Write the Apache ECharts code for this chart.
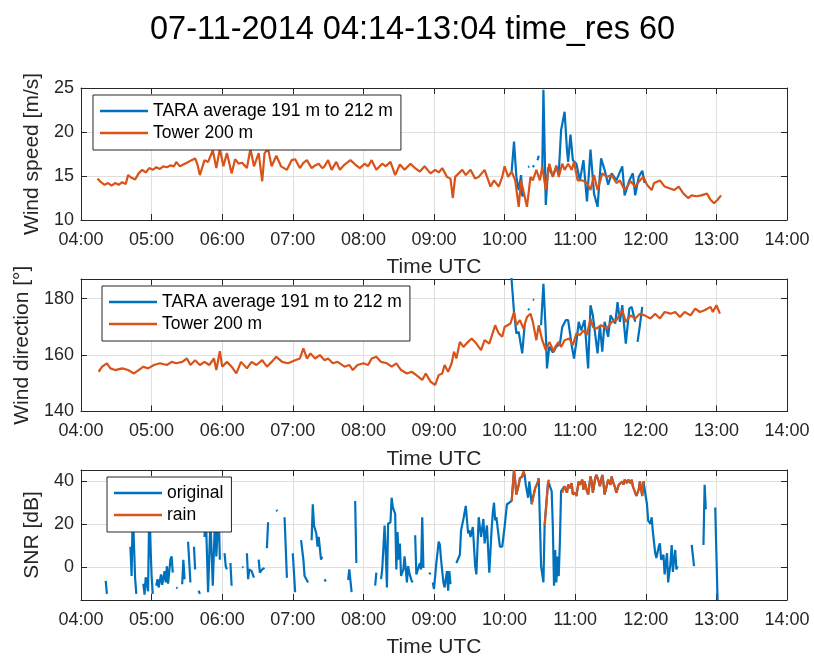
<!DOCTYPE html>
<html>
<head>
<meta charset="utf-8">
<script src="https://cdn.jsdelivr.net/npm/echarts@6/dist/echarts.min.js"></script>
<style>
  html, body { margin: 0; padding: 0; background: #ffffff; }
  #chart { width: 814px; height: 659px; }
</style>
</head>
<body>
<div id="chart"></div>
<script>
// ---- data: [time UTC, value]; null marks a gap in the record ----
const speedTara = [
  ['10:06',15.5],['10:08',18.9],['10:10',14.9],['10:12',13.4],['10:14',15.1],['10:15',12.7],['10:17',13.0],['10:18',null],
  ['10:20',16.0],['10:21',16.1],['10:22',null],['10:24',16.0],['10:25',16.2],['10:26',null],['10:28',16.8],['10:29',17.3],['10:30',null],
  ['10:32',15.5],['10:33',24.8],['10:35',11.7],['10:37',16.0],['10:39',15.5],['10:41',15.0],['10:44',16.0],['10:46',15.2],
  ['10:48',20.2],['10:51',22.3],['10:53',18.0],['10:54',16.6],['10:56',19.7],['10:58',16.8],['11:01',16.4],['11:04',14.5],
  ['11:07',16.8],['11:10',12.1],['11:13',18.0],['11:16',13.0],['11:19',11.5],['11:22',17.0],['11:25',15.7],['11:28',14.0],
  ['11:31',15.3],['11:35',14.5],['11:40',16.1],['11:42',12.8],['11:46',14.5],['11:49',15.3],['11:51',12.8],['11:54',14.9],
  ['11:57',15.6],['11:59',14.2]
];
const speedTower = [
  ['04:14',14.7],['04:17',14.3],['04:20',14.0],['04:23',14.2],['04:26',13.9],['04:29',14.2],['04:32',14.0],['04:35',14.3],
  ['04:38',14.1],['04:40',15.1],['04:43',14.8],['04:46',14.6],['04:49',15.3],['04:52',15.7],['04:55',15.4],['04:58',15.9],
  ['05:01',15.7],['05:04',16.0],['05:07',15.8],['05:10',16.1],['05:13',16.0],['05:16',16.2],['05:19',16.1],['05:21',16.6],
  ['05:24',16.1],['05:27',16.3],['05:30',16.5],['05:34',16.8],['05:37',17.0],['05:39',16.3],['05:41',15.1],['05:45',16.8],
  ['05:48',16.6],['05:52',17.9],['05:55',15.9],['05:58',18.1],['06:01',16.1],['06:04',17.6],['06:08',15.3],['06:11',16.9],
  ['06:14',16.4],['06:17',16.5],['06:21',15.9],['06:24',18.1],['06:27',16.1],['06:31',17.6],['06:34',14.4],['06:36',17.6],
  ['06:39',18.1],['06:42',16.1],['06:46',17.3],['06:50',16.1],['06:55',15.7],['06:59',16.8],['07:02',16.9],['07:06',15.9],
  ['07:09',16.5],['07:12',16.8],['07:16',15.9],['07:19',16.2],['07:22',16.4],['07:25',15.9],['07:27',16.1],['07:30',16.8],
  ['07:33',15.7],['07:37',16.6],['07:40',15.7],['07:44',16.3],['07:49',16.8],['07:53',16.3],['07:57',15.9],['08:01',16.4],
  ['08:04',16.1],['08:07',16.8],['08:11',15.7],['08:16',16.4],['08:19',16.1],['08:23',16.6],['08:27',15.1],['08:31',16.3],
  ['08:35',15.7],['08:40',16.4],['08:44',15.9],['08:48',15.5],['08:52',16.1],['08:57',15.3],['09:01',15.7],['09:04',15.4],
  ['09:07',15.9],['09:11',14.9],['09:14',14.7],['09:16',12.5],['09:18',14.9],['09:21',15.3],['09:24',15.7],['09:27',15.1],
  ['09:31',15.7],['09:35',14.7],['09:38',14.9],['09:43',15.7],['09:48',13.8],['09:51',14.5],['09:55',13.8],['09:58',14.9],
  ['10:00',16.1],['10:03',14.9],['10:06',15.5],['10:09',14.5],['10:12',11.5],['10:14',14.5],['10:17',12.7],['10:19',11.5],
  ['10:22',14.9],['10:24',14.5],['10:27',15.7],['10:30',14.5],['10:32',16.1],['10:35',13.4],['10:38',16.4],['10:41',14.9],
  ['10:44',16.2],['10:46',14.9],['10:49',16.4],['10:51',15.7],['10:54',16.4],['10:57',15.7],['10:59',16.6],['11:02',14.5],
  ['11:06',14.5],['11:10',14.2],['11:13',13.4],['11:16',15.1],['11:19',13.4],['11:23',15.3],['11:27',14.9],['11:31',15.1],
  ['11:35',14.2],['11:38',14.5],['11:42',13.4],['11:47',14.4],['11:51',13.8],['11:55',14.5],['11:58',14.9],['12:01',14.0],
  ['12:05',13.4],['12:07',14.2],['12:12',14.5],['12:16',13.8],['12:20',13.6],['12:24',13.4],['12:28',13.8],['12:32',13.0],
  ['12:36',12.5],['12:39',12.8],['12:43',12.7],['12:47',12.8],['12:52',13.0],['12:55',12.3],['12:58',11.9],['13:01',12.3],
  ['13:04',12.8]
];
const dirTara = [
  ['10:05',192],['10:08',175.3],['10:10',167.7],['10:12',168.2],['10:15',160.6],['10:17',170.6],['10:18',null],
  ['10:20',176.5],['10:21',176.0],['10:22',null],['10:24',179.8],['10:25',179.5],['10:26',null],
  ['10:31',170.6],['10:33',185.3],['10:35',168.0],['10:36',155.3],['10:38',163.0],['10:41',161.0],['10:44',163.0],
  ['10:47',164.0],['10:49',170.0],['10:52',172.4],['10:54',172.4],['10:57',163.5],['10:59',158.8],['11:01',164.7],
  ['11:03',171.8],['11:05',168.8],['11:08',172.4],['11:10',160.6],['11:11',155.3],['11:13',177.7],['11:15',174.1],
  ['11:19',160.6],['11:21',170.6],['11:23',161.2],['11:25',171.8],['11:28',166.5],['11:30',174.1],['11:34',171.2],
  ['11:36',178.8],['11:38',171.8],['11:40',177.7],['11:43',164.1],['11:46',176.5],['11:48',177.1],['11:51',171.8],
  ['11:52',null],['11:53',164.7],['11:55',170.6],['11:57',177.1]
];
const dirTower = [
  ['04:15',154.1],['04:18',155.9],['04:22',157.1],['04:25',155.3],['04:29',154.7],['04:35',155.3],['04:40',154.7],['04:45',153.5],
  ['04:49',154.7],['04:53',155.9],['04:57',155.3],['05:02',156.5],['05:07',157.1],['05:13',156.5],['05:17',157.6],['05:21',157.1],
  ['05:26',157.6],['05:30',158.8],['05:33',156.5],['05:37',158.2],['05:41',156.5],['05:45',157.6],['05:49',156.5],['05:53',158.8],
  ['05:55',154.7],['05:58',161.4],['06:00',155.9],['06:04',157.6],['06:08',155.9],['06:12',153.5],['06:16',157.6],['06:21',155.3],
  ['06:25',157.6],['06:29',156.5],['06:34',158.2],['06:38',155.9],['06:42',157.6],['06:46',159.4],['06:51',157.6],['06:56',157.1],
  ['07:02',158.2],['07:06',158.8],['07:09',162.4],['07:12',158.8],['07:15',160.6],['07:19',158.8],['07:23',160.0],['07:27',158.2],
  ['07:30',158.8],['07:34',157.1],['07:38',157.6],['07:44',155.9],['07:48',156.5],['07:51',154.7],['07:55',156.5],['08:00',157.1],
  ['08:04',156.5],['08:07',158.8],['08:11',159.4],['08:15',157.6],['08:20',157.1],['08:24',155.9],['08:28',157.1],['08:32',154.7],
  ['08:37',153.5],['08:41',154.1],['08:45',152.9],['08:50',151.2],['08:53',153.5],['08:57',150.6],['09:01',149.4],['09:04',152.9],
  ['09:07',153.5],['09:09',156.5],['09:12',154.1],['09:15',157.1],['09:17',161.2],['09:19',158.8],['09:22',164.7],['09:25',162.9],
  ['09:29',164.7],['09:32',165.9],['09:36',164.1],['09:40',161.8],['09:43',165.3],['09:47',164.1],['09:52',170.6],['09:55',167.7],
  ['09:58',166.5],['10:00',170.0],['10:05',171.2],['10:08',175.3],['10:10',170.6],['10:13',172.4],['10:16',169.4],['10:19',173.5],
  ['10:22',174.7],['10:24',171.8],['10:27',165.3],['10:29',170.6],['10:32',165.3],['10:35',161.8],['10:38',164.7],['10:42',161.2],
  ['10:43',162.9],['10:46',164.7],['10:48',162.9],['10:51',165.3],['10:55',165.9],['10:58',163.5],['11:01',167.7],['11:04',167.1],
  ['11:07',168.8],['11:10',167.1],['11:13',173.0],['11:15',170.0],['11:18',169.4],['11:22',170.6],['11:27',169.4],['11:31',171.8],
  ['11:35',172.4],['11:40',175.9],['11:43',171.8],['11:47',174.1],['11:51',173.0],['11:55',174.7],['11:59',174.1],['12:04',173.0],
  ['12:08',174.7],['12:12',173.0],['12:16',175.3],['12:21',174.7],['12:25',175.3],['12:29',173.5],['12:33',175.3],['12:38',174.1],
  ['12:42',176.5],['12:46',175.3],['12:50',175.9],['12:55',177.1],['12:57',175.3],['13:00',177.7],['13:03',174.7]
];
const snrOriginal = [
  ['04:21',-6.2],['04:22',-12.2],['04:23',null],
  ['04:42',9.6],['04:43',-3.9],['04:44',27],['04:46',-5],['04:47',-12.2],['04:48',null],
  ['04:53',-7.5],['04:54',-12.5],['04:55',-4.5],['04:57',-11],['04:58',26],['05:00',-3.9],['05:01',-12.2],['05:02',null],
  ['05:04',-8.4],['05:05',-5.4],['05:06',-9.2],['05:08',-3.2],['05:09',-8],['05:11',-1.7],['05:12',-6.9],['05:13',0.6],
  ['05:14',-7.5],['05:16',3.6],['05:17',5.1],['05:18',-2.4],['05:19',null],
  ['05:21',-9.2],['05:22',-9.6],['05:23',null],
  ['05:26',-7.7],['05:27',3.6],['05:28',-5.4],['05:29',null],
  ['05:31',11.9],['05:33',-6.9],['05:34',null],
  ['05:36',9.6],['05:37',-0.9],['05:38',null],
  ['05:40',-10.7],['05:41',-12.2],['05:42',null],
  ['05:45',14.1],['05:46',26],['05:48',-11.4],['05:50',22],['05:52',-8.4],['05:54',25],['05:55',5.1],['05:57',26],['05:58',3.6],['05:59',null],
  ['06:02',6.6],['06:03',0.6],['06:04',-0.9],['06:05',null],
  ['06:07',2.1],['06:08',-8.4],['06:09',null],
  ['06:17',0.3],['06:18',0],['06:19',null],
  ['06:21',6.6],['06:22',-5.4],['06:23',-0.9],['06:25',-1.7],['06:27',-4.7],['06:28',null],
  ['06:31',3.6],['06:32',-2.4],['06:34',-0.9],['06:35',-0.6],['06:36',-0.2],['06:37',null],
  ['06:38',8.9],['06:39',20.9],['06:40',null],
  ['06:46',26.5],['06:47',26],['06:48',null],
  ['06:53',23.2],['06:55',-4.7],['06:56',null],
  ['07:00',6.6],['07:02',-11.4],['07:03',null],
  ['07:07',12.6],['07:09',3.6],['07:10',-3.9],['07:13',-6.9],['07:14',null],
  ['07:16',12.6],['07:17',29.2],['07:18',19.4],['07:20',15.7],['07:21',9.6],['07:22',14.1],['07:24',3.6],['07:25',5],['07:26',null],
  ['07:27',-5.4],['07:28',-6.5],['07:29',null],
  ['07:47',-5.7],['07:48',-0.9],['07:50',-11.4],['07:51',null],
  ['07:53',30.7],['07:54',2.1],['07:55',null],
  ['08:10',-8.4],['08:11',-2.4],['08:12',null],
  ['08:15',-5.4],['08:16',-0.9],['08:18',19.4],['08:19',6.6],['08:20',-9.2],['08:21',20.2],['08:23',20.9],['08:24',32.2],
  ['08:25',27.7],['08:27',24.7],['08:28',-0.9],['08:29',16.4],['08:30',3.6],['08:31',11.1],['08:32',-3.9],['08:34',-0.9],
  ['08:35',5.1],['08:37',-6.9],['08:38',0.6],['08:39',-2.5],['08:41',-6.2],['08:42',-6.9],['08:43',null],
  ['08:44',14.9],['08:45',-3.2],['08:46',-2.4],['08:48',2.1],['08:49',-0.9],['08:50',23.2],['08:51',-0.2],['08:52',null],
  ['08:56',-3.2],['08:57',-2.4],['08:58',null],
  ['08:59',-6.9],['09:00',-9.9],['09:02',2.1],['09:04',11.9],['09:05',10.4],['09:06',3.6],['09:08',-6.9],['09:09',-9.2],
  ['09:11',-1.7],['09:12',-10.7],['09:13',-1.7],['09:14',-7.7],['09:15',null],
  ['09:19',2.1],['09:22',5.9],['09:23',17.2],['09:25',22.4],['09:27',28.4],['09:28',28.4],['09:29',15.7],['09:30',17.2],
  ['09:31',14.1],['09:33',18.7],['09:35',0.6],['09:36',-3.2],['09:38',23.2],['09:39',23.9],['09:40',14.1],['09:42',22.4],
  ['09:43',11.1],['09:45',19.4],['09:47',-2.4],['09:49',17.9],['09:50',25.4],['09:51',29.9],['09:52',21.7],['09:53',23.2],
  ['09:56',9.6],['09:58',9.6],['09:59',14.1],['10:00',18.7],['10:02',29.2],['10:04',29.9],['10:05',30.7],
  ['10:06',30.7],['10:08',45],['10:09',39.7],['10:10',33.7],['10:12',38.2],['10:13',41.2],['10:15',42],['10:16',44.2],
  ['10:17',42.7],['10:18',38.2],['10:20',32.2],['10:21',39.7],['10:23',29.2],['10:26',36.7],['10:28',39],['10:29',41.2],
  ['10:30',21.7],['10:31',0.6],['10:33',-6.9],['10:34',19.4],['10:37',39.7],['10:38',40.5],['10:40',35.2],['10:41',18.7],
  ['10:42',-8.4],['10:43',8.1],['10:44',-6.9],['10:45',5.1],['10:46',-4],['10:47',12],['10:48',35.2],
  ['10:49',34.5],['10:51',37.5],['10:53',34.5],['10:54',38.2],['10:56',36.7],['10:57',39],['10:58',33.7],['11:00',34.5],
  ['11:01',33],['11:03',39.7],['11:04',38.2],['11:06',40.5],['11:07',36],['11:08',39.7],['11:10',35.2],['11:11',33.7],
  ['11:13',42],['11:14',39.7],['11:15',34.5],['11:17',41.2],['11:18',42.7],['11:20',39.7],['11:21',37.5],['11:23',42.7],
  ['11:24',39],['11:25',33.7],['11:27',38.2],['11:28',40.5],['11:30',38.2],['11:31',42],['11:32',39.7],['11:34',36.7],
  ['11:35',34.5],['11:37',38.2],['11:38',37.5],['11:40',39.7],['11:41',38.2],['11:42',40.5],['11:44',39],['11:45',40.5],
  ['11:47',39],['11:48',40.5],['11:49',37.5],['11:51',34.5],['11:52',33],['11:54',36],['11:55',39.7],['11:57',33],
  ['11:58',39.7],['11:59',39],
  ['12:01',29.2],['12:02',21.7],['12:04',20.2],['12:05',23.2],['12:06',16.4],['12:08',6.6],['12:09',4.4],['12:11',9.6],
  ['12:12',11.1],['12:13',3.6],['12:15',5.9],['12:16',-3.2],['12:18',6.6],['12:19',-6.9],['12:21',2.1],['12:22',10.4],
  ['12:23',-2],['12:24',3.6],['12:25',8.1],['12:26',-0.9],['12:27',0.6],['12:28',null],
  ['12:39',10.4],['12:41',0.6],['12:42',null],
  ['12:49',10.4],['12:50',38.2],['12:51',26.9],['12:52',null],
  ['12:59',27.7],['13:00',6.6],['13:01',-15]
];
const snrRain = [
  ['10:06',30.7],['10:08',45],['10:09',39.7],['10:10',33.7],['10:12',38.2],['10:13',41.2],['10:15',42],['10:16',44.2],['10:17',42.7],['10:18',null],
  ['10:23',29.2],['10:26',36.7],['10:28',39],['10:29',41.2],['10:30',null],
  ['10:34',19.4],['10:37',39.7],['10:38',40.5],['10:39',null],
  ['10:49',34.5],['10:51',37.5],['10:53',34.5],['10:54',38.2],['10:56',36.7],['10:57',39],['10:58',33.7],['11:00',34.5],
  ['11:01',33],['11:03',39.7],['11:04',38.2],['11:06',40.5],['11:07',36],['11:08',39.7],['11:10',35.2],['11:11',33.7],
  ['11:13',42],['11:14',39.7],['11:15',34.5],['11:17',41.2],['11:18',42.7],['11:20',39.7],['11:21',37.5],['11:23',42.7],
  ['11:24',39],['11:25',33.7],['11:27',38.2],['11:28',40.5],['11:30',38.2],['11:31',42],['11:32',39.7],['11:34',36.7],
  ['11:35',34.5],['11:37',38.2],['11:38',37.5],['11:40',39.7],['11:41',38.2],['11:42',40.5],['11:44',39],['11:45',40.5],
  ['11:47',39],['11:48',40.5],['11:49',37.5],['11:51',34.5],['11:52',33],['11:54',36],['11:55',39.7],['11:57',33],
  ['11:58',39.7],['11:59',39]
];

// ---- names and axis ranges ----
const taraName = 'TARA average 191 m to 212 m';
const towerName = 'Tower 200 m';
const titleText = '07-11-2014 04:14-13:04 time_res 60';
const timeRange = ['04:00', '14:00'];

// ---- helpers ----
const FONT = '"Liberation Sans", Arial, Helvetica, sans-serif';
const INK = '#262626';
const GRID = '#dfdfdf';
const BLUE = '#0072BD';
const ORANGE = '#D95319';

const toMin = s => { const p = s.split(':'); return (+p[0]) * 60 + (+p[1]); };
const pad = n => (n < 10 ? '0' : '') + n;
const fmtTime = v => pad(Math.floor(v / 60)) + ':' + pad(Math.round(v % 60));
const toSeries = arr => arr.map(d => [toMin(d[0]), d[1] === null ? '-' : d[1]]);

const grids = [
  { left: 81, top: 88, width: 706, height: 132 },
  { left: 81, top: 279, width: 706, height: 132.5 },
  { left: 81, top: 470, width: 706, height: 133 }
];

function xPair(gi) {
  const base = {
    type: 'value', gridIndex: gi, min: toMin(timeRange[0]), max: toMin(timeRange[1]), interval: 60,
    axisLine: { show: true, onZero: false, lineStyle: { color: INK, width: 1 } },
    axisTick: { show: true, inside: true, length: 6, lineStyle: { color: INK, width: 1 } }
  };
  return [
    Object.assign({}, base, {
      position: 'bottom', name: 'Time UTC', nameLocation: 'middle', nameGap: 37,
      nameTextStyle: { fontSize: 21, color: INK, fontFamily: FONT },
      axisLabel: { formatter: fmtTime, color: INK, fontSize: 18, margin: 11, fontFamily: FONT, interval: 0, hideOverlap: false },
      splitLine: { show: true, lineStyle: { color: GRID, width: 1 } }
    }),
    Object.assign({}, base, { position: 'top', axisLabel: { show: false }, splitLine: { show: false } })
  ];
}

function yPair(gi, name, range, step, nameGap) {
  const base = {
    type: 'value', gridIndex: gi, min: range[0], max: range[1], minInterval: step, maxInterval: step,
    axisLine: { show: true, onZero: false, lineStyle: { color: INK, width: 1 } },
    axisTick: { show: true, inside: true, length: 6, lineStyle: { color: INK, width: 1 } }
  };
  return [
    Object.assign({}, base, {
      position: 'left', name: name, nameLocation: 'middle', nameGap: nameGap,
      nameTextStyle: { fontSize: 21, color: INK, fontFamily: FONT },
      axisLabel: {
        color: INK, fontSize: 18, margin: 7, fontFamily: FONT,
        formatter: v => (Math.abs(v % step) < 1e-9 ? String(v) : '')
      },
      splitLine: { show: true, lineStyle: { color: GRID, width: 1 } }
    }),
    Object.assign({}, base, { position: 'right', axisLabel: { show: false }, splitLine: { show: false } })
  ];
}

function line(name, gi, data, color, z) {
  return {
    type: 'line', name: name, xAxisIndex: gi * 2, yAxisIndex: gi * 2,
    data: toSeries(data), symbol: 'none', showSymbol: false, connectNulls: false,
    lineStyle: { width: 2.2, color: color }, itemStyle: { color: color },
    emphasis: { disabled: true }, animation: false, z: z
  };
}

// boxed legend with a plain line sample for each entry
function legend(left, top, names) {
  return {
    left: left, top: top, orient: 'vertical', data: names,
    icon: 'rect', itemWidth: 48, itemHeight: 2.5, itemGap: 4, padding: [7, 8, 8, 7],
    borderColor: INK, borderWidth: 1, backgroundColor: '#ffffff',
    textStyle: { fontSize: 17.5, color: '#000000', fontFamily: FONT },
    selectedMode: false
  };
}

const chart = echarts.init(document.getElementById('chart'), null, { renderer: 'canvas' });
chart.setOption({
  backgroundColor: '#ffffff',
  animation: false,
  title: {
    text: titleText, left: 145, top: 9, padding: 5,
    textStyle: { fontSize: 32.5, fontWeight: 'normal', color: '#000000', fontFamily: FONT }
  },
  grid: grids.map(g => Object.assign({ show: false, containLabel: false }, g)),
  xAxis: [].concat(xPair(0), xPair(1), xPair(2)),
  yAxis: [].concat(
    yPair(0, 'Wind speed [m/s]', [10, 25], 5, 31),
    yPair(1, 'Wind direction [°]', [140, 187], 20, 43),
    yPair(2, 'SNR [dB]', [-15, 45], 20, 32)
  ),
  legend: [
    legend(93, 95, [taraName, towerName]),
    legend(102, 286, [taraName, towerName]),
    legend(107, 477, ['original', 'rain'])
  ],
  series: [
    line(taraName, 0, speedTara, BLUE, 2),
    line(towerName, 0, speedTower, ORANGE, 3),
    line(taraName, 1, dirTara, BLUE, 2),
    line(towerName, 1, dirTower, ORANGE, 3),
    line('original', 2, snrOriginal, BLUE, 2),
    line('rain', 2, snrRain, ORANGE, 3)
  ]
});
</script>
</body>
</html>
